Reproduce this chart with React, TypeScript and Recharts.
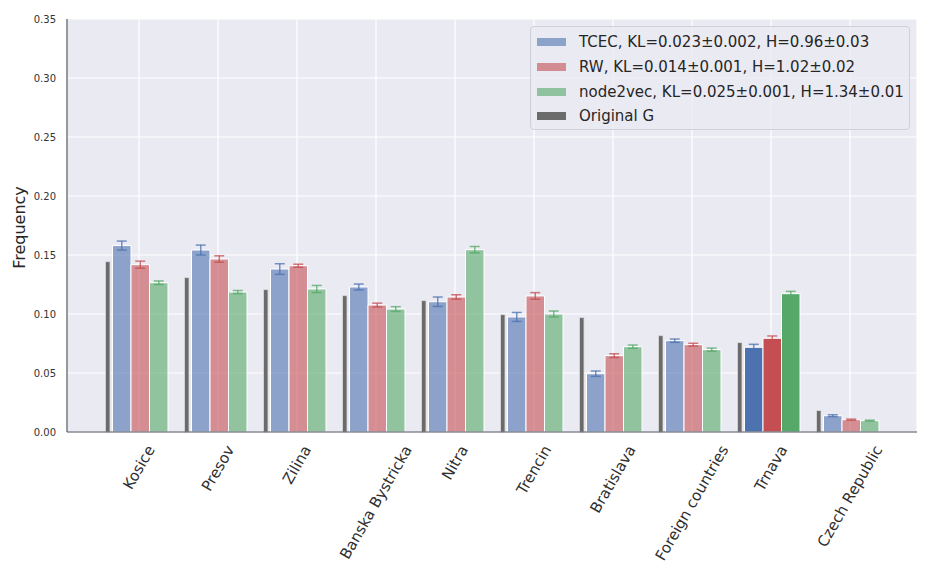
import React from "react";
import {
  Bar,
  BarChart,
  CartesianGrid,
  Cell,
  ErrorBar,
  Label,
  Legend,
  XAxis,
  YAxis,
} from "recharts";

const regions = [
  "Kosice",
  "Presov",
  "Zilina",
  "Banska Bystricka",
  "Nitra",
  "Trencin",
  "Bratislava",
  "Foreign countries",
  "Trnava",
  "Czech Republic",
];

const originalG = [0.1443, 0.1308, 0.1206, 0.1155, 0.1113, 0.0994, 0.0969, 0.0816, 0.0757, 0.0181];
const tcec = [0.158, 0.1542, 0.1381, 0.1229, 0.1104, 0.0975, 0.0494, 0.0774, 0.0718, 0.0138];
const tcecErr = [0.0038, 0.0042, 0.0045, 0.0025, 0.004, 0.0038, 0.0023, 0.0014, 0.0025, 0.0008];
const rw = [0.1418, 0.1466, 0.1409, 0.1076, 0.1144, 0.1153, 0.0647, 0.074, 0.0794, 0.0104];
const rwErr = [0.003, 0.0027, 0.0013, 0.0016, 0.0019, 0.0028, 0.0016, 0.0012, 0.002, 0.0005];
const node2vec = [0.1265, 0.1186, 0.1212, 0.1042, 0.1545, 0.1, 0.0723, 0.0698, 0.1172, 0.0096];
const node2vecErr = [0.0015, 0.0013, 0.003, 0.002, 0.0027, 0.0025, 0.0014, 0.0013, 0.002, 0.0004];

const yTicks = [0, 0.05, 0.1, 0.15, 0.2, 0.25, 0.3, 0.35];
const highlighted = "Trnava";

const legendItems = [
  { label: "TCEC, KL=0.023±0.002, H=0.96±0.03", color: "#8BA2CA" },
  { label: "RW, KL=0.014±0.001, H=1.02±0.02", color: "#D38C92" },
  { label: "node2vec, KL=0.025±0.001, H=1.34±0.01", color: "#91C29F" },
  { label: "Original G", color: "#6b6b6b" },
];

const data = regions.map((region, i) => ({
  region,
  original: originalG[i],
  tcec: tcec[i],
  tcecErr: tcecErr[i],
  rw: rw[i],
  rwErr: rwErr[i],
  node2vec: node2vec[i],
  node2vecErr: node2vecErr[i],
}));

const FONT = '"DejaVu Sans", sans-serif';
const BLUE = "#4C72B0";
const RED = "#C44E52";
const GREEN = "#55A868";
const SPINE = "#4f5561";

let measureCtx: CanvasRenderingContext2D | null = null;
function textWidth(s: string, size: number) {
  if (!measureCtx) measureCtx = document.createElement("canvas").getContext("2d");
  if (!measureCtx) return s.length * size * 0.6;
  measureCtx.font = `${size}px "DejaVu Sans"`;
  return measureCtx.measureText(s).width;
}

const XTick = (props: any) => {
  const { x, y, payload } = props;
  const size = 15;
  const w = textWidth(payload.value, size);
  const cy = y + 9 + w * 0.433 + size / 4;
  return (
    <text
      x={x}
      y={cy}
      textAnchor="middle"
      dominantBaseline="central"
      transform={`rotate(-60 ${x} ${cy})`}
      fontSize={size}
      fontFamily={FONT}
      fill="#2f2f2f"
    >
      {payload.value}
    </text>
  );
};

// thin bar for the original graph, a bit narrower than its slot
const OriginalShape = (props: any) => {
  const { x, y, width, height } = props;
  if (!height) return null;
  return (
    <rect
      x={x}
      y={y}
      width={Math.max(width - 2.5, 1)}
      height={height}
      fill="#6b6b6b"
      stroke="#dcdcdc"
      strokeWidth={0.8}
    />
  );
};

const LegendBox = () => (
  <div
    style={{
      background: "rgba(234,234,242,0.8)",
      border: "1px solid #d0d0d8",
      borderRadius: 4,
      padding: "3px 0 0 6px",
      boxSizing: "border-box",
      width: 380,
      height: 104,
      fontFamily: FONT,
      fontSize: 15,
      color: "#262626",
    }}
  >
    {legendItems.map((it) => (
      <div key={it.label} style={{ display: "flex", alignItems: "center", height: 24.7 }}>
        <span style={{ width: 29, height: 8, background: it.color, marginRight: 13 }} />
        <span>{it.label}</span>
      </div>
    ))}
  </div>
);

export default function App() {
  return (
    <div style={{ position: "absolute", left: 0, top: 0, background: "#fff" }}>
      <BarChart
        width={936}
        height={576}
        data={data}
        margin={{ top: 19, right: 19, left: 10, bottom: 14 }}
        barGap={0}
      >
        <CartesianGrid stroke="#ffffff" strokeWidth={1.2} fill="#EAEAF2" fillOpacity={1} />
        <XAxis
          dataKey="region"
          interval={0}
          tick={<XTick />}
          tickLine={false}
          tickSize={0}
          axisLine={{ stroke: SPINE, strokeWidth: 1.2 }}
          height={130}
          padding={{ left: 32.5, right: 27.5 }}
        />
        <XAxis
          xAxisId="top"
          orientation="top"
          dataKey="region"
          tick={false}
          tickLine={false}
          height={0}
          axisLine={{ stroke: SPINE, strokeWidth: 1.2 }}
          padding={{ left: 32.5, right: 27.5 }}
        />
        <YAxis
          domain={[0, 0.35]}
          ticks={yTicks}
          tickFormatter={(v: number) => v.toFixed(2)}
          tick={{ fontSize: 10, fill: "#333", fontFamily: FONT }}
          tickLine={false}
          tickSize={0}
          tickMargin={11}
          width={57}
          axisLine={{ stroke: SPINE, strokeWidth: 1.2 }}
        >
          <Label
            content={(p: any) => {
              const vb = p.viewBox || { x: 10, y: 19, width: 57, height: 413 };
              const cx = vb.x + 9;
              const cy = vb.y + vb.height / 2 + 2;
              return (
                <text
                  x={cx}
                  y={cy}
                  textAnchor="middle"
                  dominantBaseline="central"
                  transform={`rotate(-90 ${cx} ${cy})`}
                  fontSize={16}
                  fontFamily={FONT}
                  fill="#262626"
                >
                  Frequency
                </text>
              );
            }}
          />
        </YAxis>
        <YAxis
          yAxisId="right"
          orientation="right"
          domain={[0, 0.35]}
          tick={false}
          tickLine={false}
          width={0}
          axisLine={{ stroke: SPINE, strokeWidth: 1.2 }}
        />
        <Legend
          layout="horizontal"
          verticalAlign="middle"
          wrapperStyle={{ left: 530, top: 26, width: 380, height: 104 }}
          content={() => <LegendBox />}
        />
        <Bar
          dataKey="original"
          name="Original G"
          barSize={7}
          shape={<OriginalShape />}
          isAnimationActive={false}
        />
        <Bar
          dataKey="tcec"
          name="TCEC"
          barSize={18.5}
          fill={BLUE}
          stroke="#fff"
          strokeWidth={1}
          isAnimationActive={false}
        >
          {data.map((d) => (
            <Cell key={d.region} fillOpacity={d.region === highlighted ? 1 : 0.6} />
          ))}
          <ErrorBar dataKey="tcecErr" width={5} stroke={BLUE} strokeOpacity={0.75} strokeWidth={1.5} />
        </Bar>
        <Bar
          dataKey="rw"
          name="RW"
          barSize={18.5}
          fill={RED}
          stroke="#fff"
          strokeWidth={1}
          isAnimationActive={false}
        >
          {data.map((d) => (
            <Cell key={d.region} fillOpacity={d.region === highlighted ? 1 : 0.6} />
          ))}
          <ErrorBar dataKey="rwErr" width={5} stroke={RED} strokeOpacity={0.75} strokeWidth={1.5} />
        </Bar>
        <Bar
          dataKey="node2vec"
          name="node2vec"
          barSize={18.5}
          fill={GREEN}
          stroke="#fff"
          strokeWidth={1}
          isAnimationActive={false}
        >
          {data.map((d) => (
            <Cell key={d.region} fillOpacity={d.region === highlighted ? 1 : 0.6} />
          ))}
          <ErrorBar dataKey="node2vecErr" width={5} stroke={GREEN} strokeOpacity={0.75} strokeWidth={1.5} />
        </Bar>
        {/* empty slot so the group sits where matplotlib put it */}
        <Bar dataKey={() => 0} barSize={4} fill="none" legendType="none" isAnimationActive={false} />
      </BarChart>
    </div>
  );
}
